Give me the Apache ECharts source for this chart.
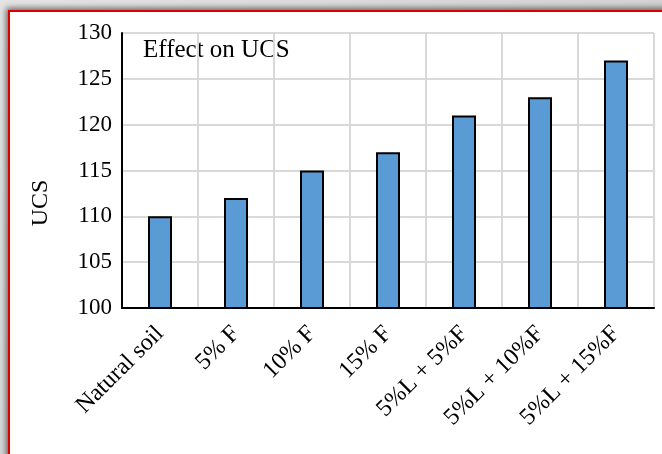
<!DOCTYPE html>
<html>
<head>
<meta charset="utf-8">
<script src="https://cdn.jsdelivr.net/npm/echarts@6/dist/echarts.min.js"></script>
<style>
html,body{margin:0;padding:0;background:#ffffff;}
#wrap{position:relative;width:662px;height:454px;overflow:hidden;background:linear-gradient(135deg,#e4e4e4,#c8c8c8);}
#frame{position:absolute;left:8px;top:10px;width:700px;height:460px;border:2px solid #dd0000;background:#fff;box-shadow:-2px -2px 6px rgba(0,0,0,0.55);}
#chart{position:absolute;left:0;top:0;width:662px;height:454px;}
</style>
</head>
<body>
<div id="wrap">
<div id="frame"></div>
<div id="chart"></div>
</div>
<script>
var categories = ['Natural soil', '5% F', '10% F', '15% F', '5%L + 5%F', '5%L + 10%F', '5%L + 15%F'];
var ucsValues = [110, 112, 115, 117, 121, 123, 127];
var yTicks = [100, 105, 110, 115, 120, 125, 130];

var FONT = 'Liberation Serif';
var chart = echarts.init(document.getElementById('chart'), null, {renderer: 'canvas'});
chart.setOption({
  backgroundColor: 'transparent',
  animation: false,
  grid: {left: 122, right: 8, top: 33, bottom: 146, containLabel: false},
  xAxis: {
    type: 'category',
    data: categories,
    axisLine: {show: true, lineStyle: {color: '#000', width: 2}},
    axisTick: {show: false},
    splitLine: {show: true, lineStyle: {color: '#d9d9d9', width: 2}},
    axisLabel: {rotate: 45, interval: 0, margin: 22, color: '#000', fontFamily: FONT, fontSize: 24}
  },
  yAxis: {
    type: 'value',
    min: yTicks[0],
    max: yTicks[yTicks.length - 1],
    interval: 5,
    axisLine: {show: true, lineStyle: {color: '#000', width: 2}},
    axisTick: {show: false},
    splitLine: {show: true, lineStyle: {color: '#d9d9d9', width: 2}},
    axisLabel: {margin: 10, color: '#000', fontFamily: FONT, fontSize: 23}
  },
  graphic: [
    {type: 'text', left: 143, top: 38, style: {text: 'Effect on UCS', fill: '#000', font: '25px "Liberation Serif"'}},
    {type: 'text', x: 41, y: 203, rotation: Math.PI / 2, style: {text: 'UCS', fill: '#000', font: '24px "Liberation Serif"', align: 'center', verticalAlign: 'middle'}}
  ],
  series: [{
    type: 'bar',
    data: ucsValues,
    barWidth: 24,
    itemStyle: {color: '#5b9bd5', borderColor: '#000', borderWidth: 2}
  }]
});
</script>
</body>
</html>
